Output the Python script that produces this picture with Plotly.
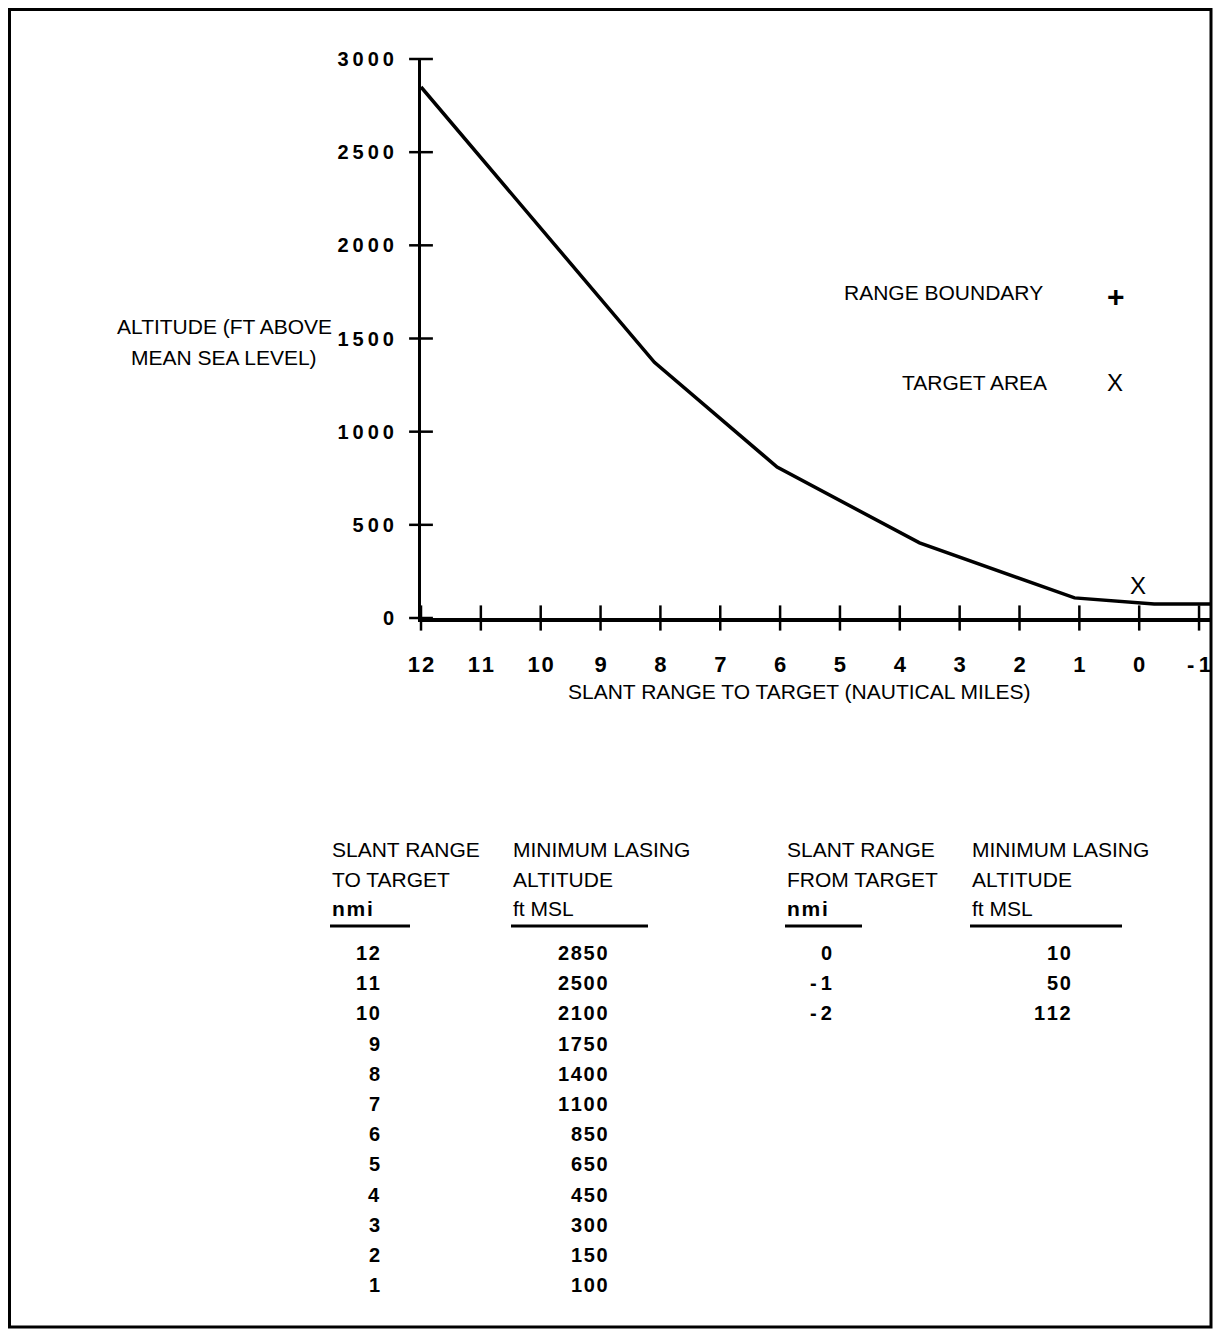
import plotly.graph_objects as go

OFF = 8  # the page puts the figure 8px in from the top-left corner
W, H = 1222 - OFF, 1330 - OFF  # fit inside the window so nothing scrolls

# curve as drawn on the chart (slant range nmi, altitude ft MSL)
curve_nmi = [12, 8.1, 6.05, 3.67, 1.08, 0.0, -0.25, -1.4]
curve_ft = [2850, 1372, 810, 403, 108, 80, 75, 75]

# symbols on the chart
boundary_nmi = [3.55]
boundary_ft = [-118]
target_nmi = [0.02]
target_ft = [160]

# axis ticks
x_ticks = [12, 11, 10, 9, 8, 7, 6, 5, 4, 3, 2, 1, 0, -1]
y_ticks = [0, 500, 1000, 1500, 2000, 2500, 3000]

# table values
to_nmi = [12, 11, 10, 9, 8, 7, 6, 5, 4, 3, 2, 1]
to_alt = [2850, 2500, 2100, 1750, 1400, 1100, 850, 650, 450, 300, 150, 100]
from_nmi = [0, -1, -2]
from_alt = [10, 50, 112]

hdr_to_range = ["SLANT RANGE", "TO TARGET", "nmi"]
hdr_alt = ["MINIMUM LASING", "ALTITUDE", "ft MSL"]
hdr_from_range = ["SLANT RANGE", "FROM TARGET", "nmi"]

FONT = "Liberation Sans, Arial, sans-serif"
HAIR = "\u200a"
THIN = "\u2009"

RIGHT = 1211  # right edge of frame / end of x axis (page px)
PX_PER_NMI = 59.85


def spaced(v, sep=HAIR):
    s = str(v)
    if s.startswith("-"):
        return "-" + THIN + sep.join(s[1:])
    return sep.join(s)


# page pixel -> paper fraction
def px(x):
    return (x - OFF) / W


def py(y):
    return 1 - (y - OFF) / H


fig = go.Figure()

fig.add_trace(go.Scatter(x=curve_nmi, y=curve_ft, mode="lines",
                         line=dict(color="black", width=3.5),
                         cliponaxis=True))

# tick marks crossing the axes
fig.add_trace(go.Scatter(x=x_ticks, y=[0] * len(x_ticks), mode="markers",
                         marker=dict(symbol="line-ns", size=18,
                                     line=dict(width=2.5, color="black")),
                         cliponaxis=False))
fig.add_trace(go.Scatter(x=[12] * len(y_ticks), y=y_ticks, mode="markers",
                         marker=dict(symbol="line-ew", size=17,
                                     line=dict(width=2.5, color="black")),
                         cliponaxis=False))

fig.add_trace(go.Scatter(x=boundary_nmi, y=boundary_ft, mode="text", text=["+"],
                         textfont=dict(family=FONT, size=30, color="black", weight="bold"),
                         cliponaxis=False))
fig.add_trace(go.Scatter(x=target_nmi, y=target_ft, mode="text", text=["X"],
                         textfont=dict(family=FONT, size=24, color="black"),
                         cliponaxis=False))

annotations = []


def label(text, x, y, size=21, xanchor="center", bold=False):
    annotations.append(dict(text=text, x=px(x), y=py(y), xref="paper", yref="paper",
                            xanchor=xanchor, yanchor="middle", showarrow=False,
                            font=dict(family=FONT, size=size, color="black",
                                      weight="bold" if bold else "normal")))


# axis titles
label("ALTITUDE (FT ABOVE", 224, 326)
label("MEAN SEA LEVEL)", 224, 358)
label("SLANT RANGE TO TARGET (NAUTICAL MILES)", 800, 692)

# key
label("RANGE BOUNDARY", 943, 292)
label("+", 1116, 296, size=30, bold=True)
label("TARGET AREA", 974, 382)
label("X", 1115, 382, size=24)

# table headers
hdr_y = [849, 879, 908]
for left, lines in zip([330, 511, 785, 970],
                       [hdr_to_range, hdr_alt, hdr_from_range, hdr_alt]):
    for yy, t in zip(hdr_y, lines):
        label(spaced(t) if t == "nmi" else t, left, yy, size=21, xanchor="left",
              bold=(t == "nmi"))

# table rows
row0, step = 953, 30.2
for i, (r, a) in enumerate(zip(to_nmi, to_alt)):
    label(spaced(r), 382, row0 + i * step, size=20, xanchor="right", bold=True)
    label(spaced(a), 610, row0 + i * step, size=20, xanchor="right", bold=True)
for i, (r, a) in enumerate(zip(from_nmi, from_alt)):
    label(spaced(r), 834, row0 + i * step, size=20, xanchor="right", bold=True)
    label(spaced(a), 1073, row0 + i * step, size=20, xanchor="right", bold=True)

shapes = []
for x0, x1 in [(330, 410), (511, 648), (785, 862), (970, 1122)]:
    shapes.append(dict(type="line", xref="paper", yref="paper",
                       x0=px(x0), x1=px(x1), y0=py(926), y1=py(926),
                       line=dict(color="black", width=3)))
# page frame
shapes.append(dict(type="rect", xref="paper", yref="paper",
                   x0=px(9.5), x1=px(RIGHT), y0=py(1327), y1=py(9.5),
                   line=dict(color="black", width=3)))

fig.update_layout(
    width=W, height=H,
    margin=dict(l=0, r=0, t=0, b=0, autoexpand=False),
    paper_bgcolor="white", plot_bgcolor="white",
    showlegend=False, hovermode=False,
    annotations=annotations, shapes=shapes,
)
fig.update_xaxes(
    domain=[px(421), px(RIGHT)],
    range=[12, 12 - (RIGHT - 421) / PX_PER_NMI],
    tickvals=x_ticks, ticktext=[spaced(v) for v in x_ticks],
    tickfont=dict(family=FONT, size=22, color="black", weight="bold"),
    ticks="", ticklabelstandoff=24, automargin=False,
    showline=True, linecolor="black", linewidth=3.5,
    showgrid=False, zeroline=False,
)
fig.update_yaxes(
    domain=[py(618), py(59)],
    range=[0, 3000],
    tickvals=y_ticks, ticktext=[spaced(v, THIN) for v in y_ticks],
    tickfont=dict(family=FONT, size=20, color="black", weight="bold"),
    ticks="", ticklabelstandoff=20, automargin=False,
    showline=True, linecolor="black", linewidth=3,
    showgrid=False, zeroline=False,
)

fig.write_html("out.html")
